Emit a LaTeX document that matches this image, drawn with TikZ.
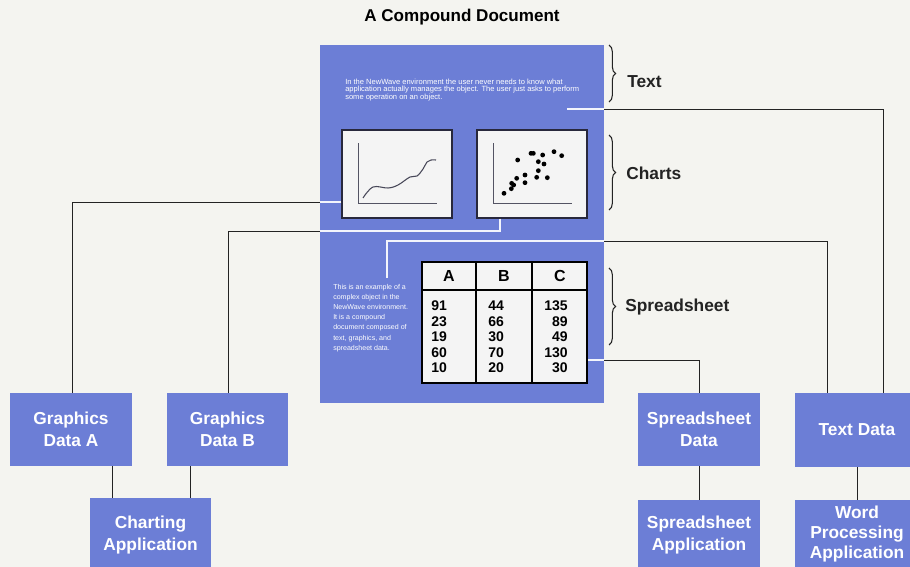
\documentclass[tikz,border=0pt]{standalone}
\usepackage{fontspec}
\setmainfont{Liberation Sans}
\usetikzlibrary{decorations.pathreplacing}
\definecolor{docblue}{RGB}{108,126,214}
\definecolor{paper}{RGB}{244,244,240}
\definecolor{ink}{RGB}{35,35,35}
\definecolor{frame}{RGB}{40,40,60}
\definecolor{chartbg}{RGB}{244,244,244}
\begin{document}
\begin{tikzpicture}[x=0.75pt,y=-0.75pt,
  box/.style={fill=docblue,text=white,font=\bfseries\fontsize{13}{16.5}\selectfont,align=center,inner sep=0pt,minimum width=91.5pt,minimum height=54.75pt},
  sidelabel/.style={anchor=west,inner sep=0pt,text=ink,font=\bfseries\fontsize{13}{15}\selectfont},
  conn/.style={draw=ink,line width=0.75pt},
  inconn/.style={draw=white!92!docblue,line width=0.9pt},
  chartbox/.style={draw=frame,line width=1pt,fill=chartbg,minimum width=82.5pt,minimum height=66pt,inner sep=0pt},
  num/.style={inner sep=0pt,text=black,font=\bfseries\fontsize{10.5}{12}\selectfont},
  hdr/.style={inner sep=0pt,text=black,font=\bfseries\fontsize{12}{12}\selectfont},
  brc/.style={draw=ink,line width=0.8pt,decorate,decoration={brace,amplitude=5pt}},
  dot/.style={fill=black,draw=none}
]
\clip (0,0) rectangle (910,567);
\fill[paper] (0,0) rectangle (910,567);

% title
\node[inner sep=0pt,font=\bfseries\fontsize{12.8}{14}\selectfont,text=black] (title) at (462,17) {A Compound Document};

% compound document
\node[fill=docblue,minimum width=213pt,minimum height=268.5pt,inner sep=0pt] (doc) at (462,224) {};

\node[anchor=north west,inner sep=0pt,text=white,align=left,font=\fontsize{5.65}{5.1}\selectfont] (para1) at (345,79)
 {In the NewWave environment the user never needs to know what\\application actually manages the object. The user just asks to perform\\some operation on an object.};

\node[anchor=north west,inner sep=0pt,text=white,align=left,font=\fontsize{5.3}{7.6}\selectfont] (para2) at (333,284)
 {This is an example of a\\complex object in the\\NewWave environment.\\It is a compound\\document composed of\\text, graphics, and\\spreadsheet data.};

% charts
\node[chartbox] (lchart) at (397,174) {};
\node[chartbox] (rchart) at (532,174) {};
\draw[frame!80,line width=0.6pt] (358,143) -- (358,203) -- (437,203);
\draw[frame!80,line width=0.6pt] (493,143) -- (493,203) -- (572,203);
\draw[frame!85,line width=0.8pt] plot[smooth,tension=0.6] coordinates {(363,198) (373,187) (388,188) (398,185) (410,177) (417,176) (423,169) (427,162) (431,160) (436,160)};
\foreach \px/\py in {582/220,604/206,611/195,605/190,620/175,645/165,645/188,680/172,712/173,685/152,702/132,685/125,663/100,670/100,698/105,732/95,755/107,623/120}
  \fill[dot] (310+\px/3,120+\py/3) circle (1.8pt);

% spreadsheet table
\node[draw=black,line width=1.2pt,fill=chartbg,minimum width=123.75pt,minimum height=90.75pt,inner sep=0pt] (tbl) at (504.5,322.5) {};
\draw[black,line width=0.9pt] (422,290) -- (587,290);
\draw[black,line width=0.9pt] (476,262) -- (476,383);
\draw[black,line width=0.9pt] (532,262) -- (532,383);
\node[hdr] (ha) at (449,276) {A};
\node[hdr] (hb) at (504,276) {B};
\node[hdr] (hc) at (560,276) {C};
\foreach \a/\b/\c [count=\i] in {91/44/135,23/66/89,19/30/49,60/70/130,10/20/30} {
  \node[num,anchor=base west] (ra\i) at (431,295.5+15.4*\i) {\a};
  \node[num,anchor=base west] (rb\i) at (488,295.5+15.4*\i) {\b};
  \node[num,anchor=base east] (rc\i) at (568,295.5+15.4*\i) {\c};
}

% braces and labels
\draw[brc] (609,45) -- (609,102);
\node[sidelabel] (ltext) at (627,82) {Text};
\draw[brc] (609,135) -- (609,210);
\node[sidelabel] (lcharts) at (626,173) {Charts};
\draw[brc] (609,268) -- (609,345);
\node[sidelabel] (lsheet) at (625,307) {Spreadsheet};

% data / application boxes
\node[box] (gA) at (71,429.5) {Graphics\\Data A};
\node[box,minimum width=90.75pt] (gB) at (227.5,429.5) {Graphics\\Data B};
\node[box,minimum width=90.75pt,minimum height=55.5pt] (capp) at (150.5,535) {Charting\\Application};
\node[box] (sdata) at (699,429.5) {Spreadsheet\\Data};
\node[box,minimum height=52.5pt] (sapp) at (699,535) {Spreadsheet\\Application};
\node[box,minimum width=93pt,minimum height=55.5pt] (tdata) at (857,430) {Text Data};
\node[box,minimum width=93pt,minimum height=51pt,font=\bfseries\fontsize{13}{15}\selectfont] (wapp) at (857,534) {Word\\Processing\\Application};

% connectors: text paragraph -> Text Data
\coordinate (t0) at (567,109);
\coordinate (t1) at (604,109);
\draw[inconn] (t0) -- (t1);
\draw[conn] (t1) -| ([xshift=19.5pt]tdata.north);

% left chart -> Graphics Data A
\coordinate (c1) at ([yshift=-21pt]lchart.west);
\coordinate (c1e) at (doc.west |- c1);
\draw[inconn] (c1) -- (c1e);
\draw[conn] (c1e) -| ([xshift=0.75pt]gA.north);

% right chart -> Graphics Data B
\coordinate (c2) at ([xshift=-24pt]rchart.south);
\coordinate (c2e) at (320,231);
\draw[inconn] (c2) |- (c2e);
\draw[conn] (c2e) -| ([xshift=1.1pt]gB.north);

% small paragraph -> Text Data
\coordinate (p0) at (387,278);
\coordinate (p1) at (604,241);
\draw[inconn] (p0) |- (p1);
\draw[conn] (p1) -| ([xshift=-22.5pt]tdata.north);

% table -> Spreadsheet Data
\coordinate (s0) at (tbl.east |- 0,360);
\coordinate (s1) at (604,360);
\draw[inconn] (s0) -- (s1);
\draw[conn] (s1) -| (sdata.north);

% data -> applications
\draw[conn] ([xshift=30.75pt]gA.south) -- ([xshift=30.75pt]gA.south |- capp.north);
\draw[conn] ([xshift=-27.4pt]gB.south) -- ([xshift=-27.4pt]gB.south |- capp.north);
\draw[conn] (sdata.south) -- (sapp.north);
\draw[conn] (tdata.south) -- (wapp.north);
\end{tikzpicture}
\end{document}
